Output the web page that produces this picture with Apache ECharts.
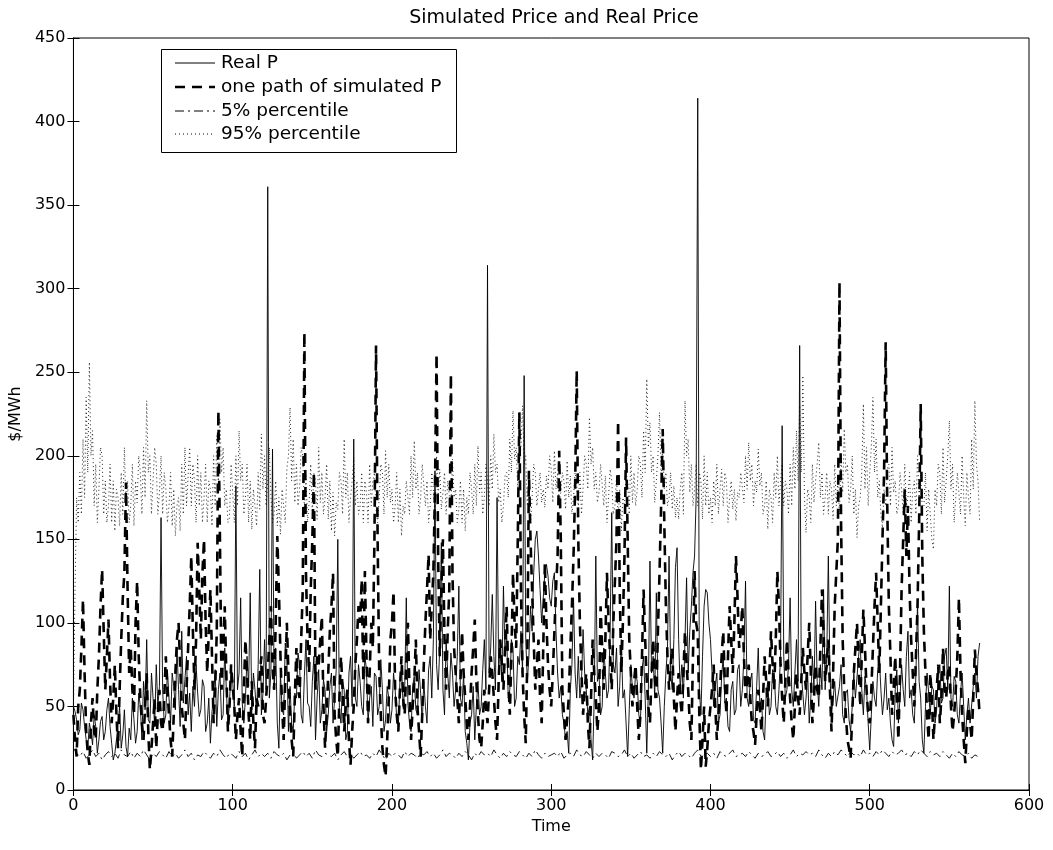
<!DOCTYPE html>
<html><head><meta charset="utf-8">
<script src="https://cdn.jsdelivr.net/npm/echarts@6/dist/echarts.min.js"></script>
<style>html,body{margin:0;padding:0;background:#fff}#c{width:1053px;height:850px}</style>
</head><body><div id="c"></div>
<script>
// hours between stored samples
const hourStep = 1;      // realP, simP, pct95
const pct5Step = 2;      // pct5

const seriesNames = ['Real P', 'one path of simulated P', '5% percentile', '95% percentile'];

const realP = [
50,47,42,33,36,52,48,38,30,25,40,35,27,45,38,22,30,41,44,30,
35,48,55,38,28,18,22,30,40,50,25,33,48,26,20,37,30,55,42,28,
35,58,50,30,65,48,90,42,40,70,55,38,75,50,62,163,60,40,45,72,
55,40,70,62,48,85,60,38,95,52,66,80,45,58,35,62,50,75,58,44,
48,66,62,35,40,55,28,47,55,72,38,60,70,42,45,85,60,40,52,75,
65,50,182,60,70,115,52,40,55,80,62,118,48,70,60,45,75,132,45,58,
90,60,361,55,70,204,60,85,40,25,70,48,45,88,80,35,62,40,35,58,
55,82,75,45,40,68,90,52,50,38,65,80,30,55,72,40,48,66,60,35,
45,62,70,40,55,72,150,48,40,65,60,30,35,70,80,50,210,55,50,75,
65,50,45,80,72,40,55,62,38,70,68,45,50,78,60,35,42,62,55,40,
48,70,60,42,38,65,75,50,60,115,52,40,35,62,68,48,45,72,58,40,
65,50,40,72,80,55,90,191,75,60,85,148,60,45,90,70,55,82,70,50,
60,80,122,55,50,70,35,28,18,40,45,62,30,50,65,45,50,72,90,60,
314,70,85,117,80,60,175,70,90,65,122,80,95,55,60,90,85,50,55,80,
75,95,70,248,90,65,80,110,95,130,150,155,140,120,100,115,130,135,128,115,
110,125,130,95,70,55,62,45,40,30,35,22,60,75,115,70,55,80,55,65,
96,70,60,45,50,30,18,55,140,65,70,45,50,85,70,55,60,95,166,75,
70,85,50,62,90,55,60,40,20,48,75,60,55,70,65,45,40,72,80,55,
22,60,137,70,80,55,118,60,55,40,22,50,70,85,140,70,60,90,133,145,
90,60,75,55,90,127,70,95,110,130,140,175,414,60,45,80,110,120,118,100,
90,70,50,62,70,40,45,68,80,52,55,38,35,60,65,45,48,72,75,50,
60,80,125,55,50,65,70,42,40,62,85,50,55,35,30,58,65,45,50,72,
70,50,45,60,80,218,80,55,60,75,115,60,50,70,90,65,266,70,70,45,
55,70,40,55,80,60,113,65,50,75,60,120,60,80,140,70,45,55,65,50,
50,62,75,45,40,58,60,42,35,50,70,55,55,80,90,60,45,68,60,40,
24,45,65,55,50,72,80,60,45,55,70,48,55,40,30,26,60,72,40,55,
75,60,50,80,95,55,60,45,40,70,112,65,55,30,22,50,70,58,45,62,
60,40,48,70,75,52,55,80,85,60,122,55,50,68,65,45,40,58,70,50,
30,45,55,40,40,62,70,55,80,88
];

const simP = [
45,30,20,50,60,85,114,70,35,22,15,40,55,35,30,60,80,110,132,95,
60,80,102,65,40,55,75,45,25,60,90,115,130,184,120,70,85,60,45,100,
125,80,55,40,30,50,70,35,12,25,40,55,25,45,60,40,35,55,80,60,
45,30,20,45,70,90,100,75,50,40,30,60,85,110,140,95,60,90,148,120,
90,130,150,100,70,95,120,80,40,60,95,227,150,60,85,110,70,35,50,75,
75,50,30,45,55,35,20,60,90,70,45,30,65,40,25,55,50,70,80,45,
40,55,70,90,110,75,60,100,152,120,80,50,30,65,100,70,45,30,20,55,
85,60,55,90,120,274,130,90,70,120,150,190,60,80,75,90,104,50,25,45,
70,95,110,130,45,30,20,55,80,60,35,50,60,30,15,35,50,75,90,110,
100,126,65,131,80,40,70,100,85,150,266,150,70,45,25,15,8,30,55,90,
100,119,60,45,35,60,80,55,45,75,100,60,30,50,65,90,50,35,20,45,
75,100,120,141,90,110,130,180,261,140,80,120,150,90,60,95,120,249,130,85,
70,55,40,65,95,70,55,40,30,50,70,85,102,65,45,30,25,40,60,50,
40,60,80,70,55,40,30,65,90,75,60,85,110,70,45,80,130,100,85,150,
226,120,70,45,28,80,191,150,120,90,60,75,90,55,40,85,136,100,75,60,
50,70,95,120,140,203,150,60,45,30,30,55,85,110,140,180,251,150,100,70,
45,60,70,40,25,55,90,70,55,35,50,110,85,60,90,130,100,80,60,100,
100,150,221,120,70,100,140,211,150,90,70,50,65,75,50,30,45,80,120,90,
65,50,40,70,90,70,55,95,130,170,216,160,110,80,60,75,85,55,35,55,
70,55,45,70,95,75,60,40,30,80,131,100,94,45,12,30,50,14,25,40,
40,60,75,50,30,45,60,80,95,65,45,80,110,90,70,100,140,115,85,95,
110,80,55,65,75,55,40,35,27,45,60,50,35,55,80,65,50,70,95,75,
60,90,131,110,75,55,40,65,90,70,55,40,30,50,70,55,45,65,85,70,
60,80,100,70,40,55,75,60,55,85,120,95,65,75,90,60,35,70,110,130,
150,304,160,90,60,45,30,25,19,45,70,85,100,75,50,80,108,85,60,45,
40,60,85,110,130,100,70,110,150,190,268,170,110,80,45,60,80,55,30,70,
120,150,180,140,170,120,90,70,50,80,110,160,231,140,95,70,45,30,70,55,
30,45,60,75,40,55,85,60,55,70,75,50,35,45,60,80,115,70,45,30,
16,35,50,40,30,55,84,70,60,45
];

const pct5 = [
25,22,20,23,19,21,24,20,22,18,
21,23,20,22,19,24,21,20,23,19,
22,20,24,21,18,22,20,23,21,19,
23,20,22,19,21,24,20,22,18,21,
20,23,21,19,22,20,24,21,19,22,
21,19,23,20,22,18,21,24,20,22,
20,22,19,23,21,20,22,18,21,23,
19,21,23,20,22,19,24,21,20,22,
21,20,22,18,21,23,20,22,19,21,
23,20,21,19,22,20,24,21,18,22,
20,22,21,19,23,20,22,21,19,22,
21,23,20,22,19,21,24,20,22,21,
19,22,20,23,21,18,22,20,23,21,
22,20,24,21,19,22,20,23,21,20,
23,21,19,22,20,24,21,19,22,20,
21,22,20,23,19,21,22,20,24,21,
20,23,21,19,22,20,22,21,19,23,
22,20,21,24,20,22,19,21,23,20,
21,19,22,20,23,21,20,22,18,21,
23,20,22,21,19,22,24,20,21,22,
20,22,19,23,21,20,22,24,20,21,
22,20,23,21,19,22,20,21,23,20,
21,23,20,22,19,21,24,20,22,21,
23,21,22,20,24,21,19,22,20,23,
21,24,22,20,23,21,22,20,24,21,
22,20,23,21,24,22,20,23,21,22,
24,21,22,20,23,21,24,22,20,23,
21,22,20,23,21,19,22,20,23,21,
20,22,19,21,20
];

const pct95 = [
45,120,175,160,190,165,210,175,235,190,256,200,215,170,195,160,180,205,200,165,
185,160,170,195,160,185,155,180,175,158,190,165,205,170,185,160,170,195,158,185,
172,200,190,165,205,175,233,190,200,165,185,205,195,165,178,200,165,190,180,160,
170,190,158,180,152,170,175,155,195,165,205,170,188,205,170,195,185,160,200,170,
190,160,175,195,160,185,180,158,200,170,212,180,222,190,205,170,180,160,163,195,
178,160,200,170,215,185,195,165,175,195,160,185,156,180,170,158,190,168,213,180,
200,170,185,205,175,160,165,185,158,175,153,180,170,160,192,200,229,185,210,172,
195,170,180,205,200,168,188,160,172,195,165,190,185,162,205,172,190,165,175,195,
162,185,155,178,152,172,168,190,185,165,210,175,190,160,175,185,199,170,185,165,
170,190,160,185,178,160,195,170,185,190,168,160,175,195,190,165,203,175,195,172,
180,160,170,190,160,180,152,170,165,185,185,165,200,175,209,180,190,165,175,195,
195,170,185,160,170,190,180,165,200,175,192,168,178,190,165,185,185,168,198,175,
180,160,168,185,160,180,155,175,165,190,180,165,195,170,206,178,190,165,175,195,
185,170,200,180,213,190,195,172,180,160,170,188,190,175,210,190,227,198,205,180,
195,205,230,195,200,170,185,160,175,195,190,170,180,190,172,180,169,188,180,200,
192,172,203,180,190,170,178,190,185,168,197,175,188,165,175,190,182,170,190,165,
181,200,195,180,223,195,205,180,190,172,178,195,195,170,188,160,175,192,185,165,
170,188,162,180,155,175,170,190,185,165,200,172,190,170,180,200,195,175,215,190,
246,205,220,190,200,172,185,200,226,188,205,180,190,170,175,190,168,182,163,175,
162,180,190,165,233,200,210,178,195,170,180,195,170,190,185,162,200,170,190,165,
175,160,185,170,195,165,180,192,170,190,185,160,175,185,168,180,161,178,175,190,
190,172,200,180,208,185,195,170,185,178,204,182,190,165,170,185,156,180,175,160,
190,175,200,170,185,195,170,185,180,165,195,170,205,180,215,185,230,190,248,175,
154,180,175,160,195,172,185,195,208,175,190,165,175,190,165,185,180,162,195,170,
185,165,200,178,216,190,195,172,180,200,165,180,151,170,175,190,231,180,205,170,
190,205,235,190,210,175,185,165,157,180,170,192,195,170,205,178,185,165,170,190,
180,165,195,170,175,190,160,180,185,165,200,175,190,168,170,190,155,180,165,150,
144,180,170,195,190,165,205,172,185,200,221,180,195,160,175,190,190,165,200,175,
158,190,175,165,210,180,233,195,185,160
];

const xRange = [0, 600, 100];
const yRange = [0, 450, 50];

function pairs(arr, step) { return arr.map((v, i) => [i * step, v]); }

const FONT = 'DejaVu Sans';
const styles = [
  { color: '#000', width: 0.9, type: 'solid' },
  { color: '#000', width: 2.6, type: [10, 7] },
  { color: '#000', width: 0.9, type: [9, 4, 2, 4] },
  { color: '#222', width: 1, type: [1, 3] }
];

const axisCommon = {
  axisLine: { show: true, lineStyle: { color: '#000', width: 1 } },
  axisTick: { show: true, inside: true, length: 6, lineStyle: { color: '#000', width: 1 } },
  splitLine: { show: false }
};

// hand-drawn legend (box + line samples + real text)
const legendBox = { x: 161, y: 49, w: 295, h: 103 };
const legendRows = [63, 87, 111, 134];
const legendGraphics = [
  { type: 'rect', shape: { x: legendBox.x + 0.5, y: legendBox.y + 0.5, width: legendBox.w, height: legendBox.h },
    style: { fill: '#fff', stroke: '#000', lineWidth: 1 }, z: 100 }
];
seriesNames.forEach((name, i) => {
  const st = styles[i];
  legendGraphics.push({
    type: 'line', z: 101,
    shape: { x1: 175, y1: legendRows[i], x2: 215, y2: legendRows[i] },
    style: { stroke: '#000', lineWidth: i === 1 ? 2.6 : 1, lineDash: Array.isArray(st.type) ? st.type : null }
  });
  legendGraphics.push({
    type: 'text', z: 101, x: 221, y: legendRows[i],
    style: { text: name, fill: '#000', font: '18.5px "DejaVu Sans"', textVerticalAlign: 'middle', textBaseline: 'middle' }
  });
});

const chart = echarts.init(document.getElementById('c'), null, { renderer: 'canvas' });
chart.setOption({
  animation: false,
  backgroundColor: '#fff',
  title: {
    text: 'Simulated Price and Real Price',
    left: 549, top: 4, textAlign: 'center',
    textStyle: { fontFamily: FONT, fontSize: 19, fontWeight: 'normal', color: '#000' }
  },
  grid: { left: 70, right: 24, top: 38, bottom: 60, show: true, borderColor: '#000', borderWidth: 1, backgroundColor: '#fff' },
  xAxis: [
    Object.assign({ type: 'value', min: xRange[0], max: xRange[1], interval: xRange[2], position: 'bottom',
      axisLabel: { color: '#000', fontFamily: FONT, fontSize: 16, margin: 8 },
      name: 'Time', nameLocation: 'middle', nameGap: 26,
      nameTextStyle: { color: '#000', fontFamily: FONT, fontSize: 16 } }, axisCommon),
    Object.assign({ type: 'value', min: xRange[0], max: xRange[1], interval: xRange[2], position: 'top',
      axisLabel: { show: false } }, axisCommon)
  ],
  yAxis: [
    Object.assign({ type: 'value', min: yRange[0], max: yRange[1], interval: yRange[2], position: 'left',
      axisLabel: { color: '#000', fontFamily: FONT, fontSize: 16, margin: 8 },
      name: '$/MWh', nameLocation: 'middle', nameGap: 44, nameRotate: 90,
      nameTextStyle: { color: '#000', fontFamily: FONT, fontSize: 16 } }, axisCommon),
    Object.assign({ type: 'value', min: yRange[0], max: yRange[1], interval: yRange[2], position: 'right',
      axisLabel: { show: false } }, axisCommon)
  ],
  graphic: legendGraphics,
  series: [
    { name: seriesNames[0], type: 'line', data: pairs(realP, hourStep), symbol: 'none', z: 4,
      color: '#000', lineStyle: styles[0] },
    { name: seriesNames[1], type: 'line', data: pairs(simP, hourStep), symbol: 'none', z: 3,
      color: '#000', lineStyle: styles[1] },
    { name: seriesNames[2], type: 'line', data: pairs(pct5, pct5Step), symbol: 'none', z: 2,
      color: '#000', lineStyle: styles[2] },
    { name: seriesNames[3], type: 'line', data: pairs(pct95, hourStep), symbol: 'none', z: 2,
      color: '#000', lineStyle: styles[3] }
  ]
});
</script>
</body></html>
